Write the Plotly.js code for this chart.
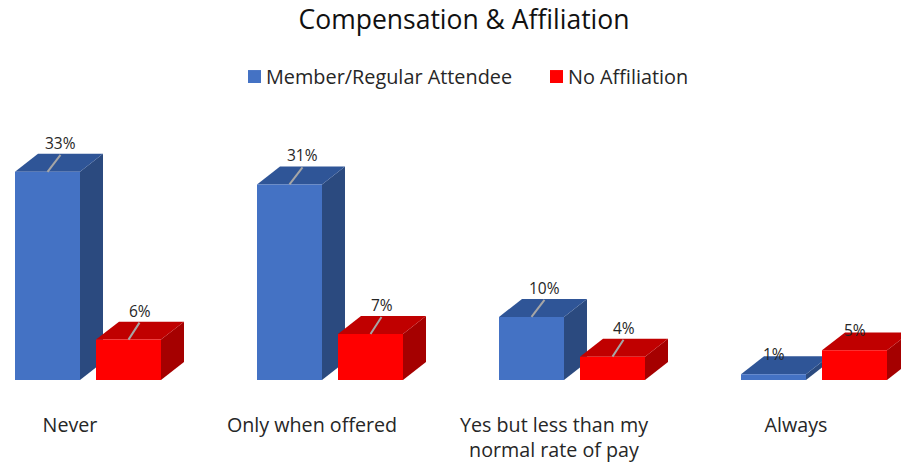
<!DOCTYPE html>
<html>
<head>
<meta charset="utf-8">
<script src="https://cdn.plot.ly/plotly-3.0.1.min.js"></script>
<style>html,body{margin:0;padding:0;background:#fff}#chart{width:901px;height:464px}</style>
</head>
<body>
<div id="chart"></div>
<script>
const categories = ["Never", "Only when offered", "Yes but less than my<br>normal rate of pay", "Always"];
const memberName = "Member/Regular Attendee";
const noAffName = "No Affiliation";
const memberValues = [33, 31, 10, 0.9];
const noAffValues = [6.4, 7.3, 3.7, 4.7];
const memberColors = {front: "#4472C4", top: "#2F5597", side: "#2B4A7F"};
const noAffColors = {front: "#FF0000", top: "#C00000", side: "#A50000"};
const FONT = "Open Sans, sans-serif";
const TEXT = "#262626";

// scale helpers: one category step = 242px, one percent = 6.32px
const stepPx = 242, pctPx = 6.32;
const px = p => p / stepPx;
const py = p => p / pctPx;
const barW = px(65), depthX = px(23), depthY = py(18);
const memberOffset = px(-55), noAffOffset = px(26);
const idx = categories.map((_, i) => i);
const marginT = 100, marginB = 83.5;
const plotH = 464 - marginT - marginB;
const paperY = yPx => (464 - marginB - yPx) / plotH;

function poly(pts) {
  return "M" + pts.map(p => p[0] + "," + p[1]).join("L") + "Z";
}
function faces(values, offset, colors) {
  const out = [];
  values.forEach((v, i) => {
    const l = i + offset, r = l + barW;
    out.push({type: "path", layer: "below", xref: "x", yref: "y", line: {width: 0}, fillcolor: colors.side,
      path: poly([[r, 0], [r + depthX, depthY], [r + depthX, v + depthY], [r, v]])});
    out.push({type: "path", layer: "below", xref: "x", yref: "y", line: {width: 0}, fillcolor: colors.top,
      path: poly([[l, v], [r, v], [r + depthX, v + depthY], [l + depthX, v + depthY]])});
  });
  return out;
}
const isLastCat = i => i === categories.length - 1;
function labelsAndLeaders(values, offset, leadDx) {
  const ann = [], lines = [];
  values.forEach((v, i) => {
    const c = i + offset + barW / 2;
    const plain = isLastCat(i);
    const lx = c + (plain ? 0 : px(leadDx));
    ann.push({x: lx, y: v, xref: "x", yref: "y", yshift: plain ? 20 : 29, showarrow: false,
      text: Math.round(v) + "%", font: {family: FONT, size: 15.5, color: TEXT}, xanchor: "center", yanchor: "middle"});
    if (!plain) lines.push({type: "line", layer: "above", xref: "x", yref: "y", x0: c, y0: v,
      x1: c + px(leadDx), y1: v + py(17), line: {color: "#A6A6A6", width: 2}});
  });
  return {ann, lines};
}
const mLab = labelsAndLeaders(memberValues, memberOffset, 13);
const nLab = labelsAndLeaders(noAffValues, noAffOffset, 11);

function barTrace(name, values, offset, color) {
  return {type: "bar", name, x: idx, y: values, offset, width: barW, marker: {color, line: {width: 0}}, showlegend: false, hoverinfo: "name+y"};
}
const traces = [
  barTrace(memberName, memberValues, memberOffset, memberColors.front),
  barTrace(noAffName, noAffValues, noAffOffset, noAffColors.front)
];

const swatch = (x0, c) => ({type: "rect", xref: "paper", yref: "paper", x0: x0 / 901, x1: (x0 + 13) / 901,
  y0: paperY(83), y1: paperY(70), line: {width: 0}, fillcolor: c});
const legText = (x, t) => ({xref: "paper", yref: "paper", x: x / 901, y: paperY(76), xanchor: "left", yanchor: "middle", xshift: -2, showarrow: false,
  text: t, font: {family: FONT, size: 19.85, color: TEXT}});

const layout = {
  width: 901, height: 464,
  paper_bgcolor: "#fff", plot_bgcolor: "#fff",
  margin: {l: 0, r: 0, t: marginT, b: marginB},
  title: {text: "Compensation &amp; Affiliation", x: 464 / 901, xanchor: "center", y: 1 - 20 / 464, yanchor: "middle",
    font: {family: FONT, size: 26.5, color: "#111"}},
  barmode: "overlay",
  showlegend: false,
  xaxis: {range: [px(-70), px(901 - 70)], tickmode: "array", tickvals: idx, ticktext: categories, showgrid: false, zeroline: false, showline: false,
    ticks: "outside", ticklen: 27, tickcolor: "rgba(0,0,0,0)", tickfont: {family: FONT, size: 19.7, color: TEXT}},
  yaxis: {range: [0, py(plotH)], visible: false, showgrid: false, zeroline: false},
  shapes: [...faces(memberValues, memberOffset, memberColors), ...faces(noAffValues, noAffOffset, noAffColors),
    ...mLab.lines, ...nLab.lines, swatch(248, memberColors.front), swatch(550, noAffColors.front)],
  annotations: [...mLab.ann, ...nLab.ann, legText(266, memberName), legText(568, noAffName)]
};
Plotly.newPlot("chart", traces, layout, {displayModeBar: false, responsive: false});
</script>
</body>
</html>
